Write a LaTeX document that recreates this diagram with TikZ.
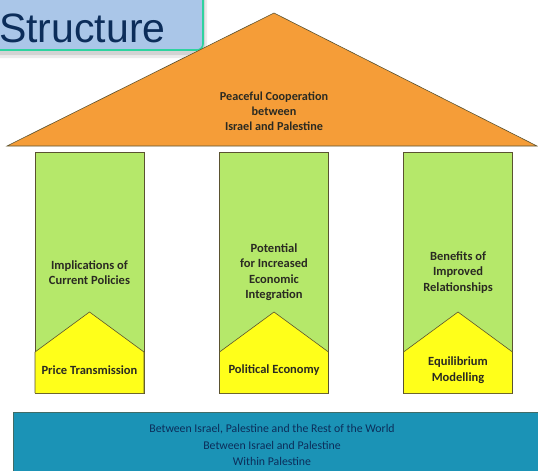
\documentclass[tikz,border=0pt]{standalone}
\usepackage{fontspec}
\setmainfont{Carlito}
\newfontfamily\headfont{Liberation Sans}
\definecolor{roofcol}{HTML}{F59D38}
\definecolor{pillarcol}{HTML}{B5E86A}
\definecolor{basecol}{HTML}{FFFF1A}
\definecolor{bandcol}{HTML}{1B93B6}
\definecolor{edgecol}{HTML}{5A5230}
\definecolor{titlefill}{HTML}{AAC6E8}
\definecolor{titleedge}{HTML}{2ED39F}
\definecolor{navy}{HTML}{0C2D5A}
\definecolor{inkcol}{HTML}{2A2A22}

\begin{document}
\begin{tikzpicture}[x=1pt,y=-1pt,
    roofline/.style={font=\fontsize{12.2}{15}\selectfont\bfseries, text=inkcol, align=center},
    pillartext/.style={font=\fontsize{12.5}{15.5}\selectfont\bfseries, text=inkcol, align=center},
    bandtext/.style={font=\fontsize{11.8}{16.5}\selectfont, text=navy, align=center}]
    \useasboundingbox (0,0) rectangle (538,471);
    \clip (0,0) rectangle (538,471);
    % title tab, with a soft shadow under it
    \fill[black, opacity=0.08, rounded corners=9pt] (-20,-20) rectangle (207,58);
    \fill[black, opacity=0.10, rounded corners=7pt] (-20,-20) rectangle (205,55);
    \draw[fill=titlefill, draw=titleedge, line width=1.6pt, rounded corners=6pt] (-20,-20) rectangle (203,50);
    \node[anchor=base west, inner sep=0, text=navy, font=\headfont\fontsize{41}{41}\selectfont] (title) at (-1,42) {Structure};
    % roof
    \draw[fill=roofcol, draw=edgecol, line width=0.6pt] (7,146) -- (274,13) -- (537,146) -- cycle;
    \node[roofline] (roof) at (274,111) {Peaceful Cooperation\\between\\Israel and Palestine};
    % pillars
    \foreach \cx in {89.5,274,458}{
        \draw[fill=pillarcol, draw=edgecol, line width=0.6pt] (\cx-54.5,152) rectangle (\cx+54.5,393);
        \draw[fill=basecol, draw=edgecol, line width=0.6pt] (\cx-54.5,393) -- (\cx-54.5,352) -- (\cx,312) -- (\cx+54.5,352) -- (\cx+54.5,393);
    }
    \node[pillartext] (policies) at (89.5,272.5) {Implications of\\Current Policies};
    \node[pillartext] (integration) at (274,272) {Potential\\for Increased\\Economic\\Integration};
    \node[pillartext] (relations) at (458,272.5) {Benefits of\\Improved\\Relationships};
    \node[pillartext] (price) at (89.5,370) {Price Transmission};
    \node[pillartext] (political) at (274,370) {Political Economy};
    \node[pillartext] (equilibrium) at (458,370) {Equilibrium\\Modelling};
    % foundation
    \draw[fill=bandcol, draw=edgecol!60!bandcol, line width=0.6pt] (13,412) rectangle (545,480);
    \node[bandtext] (levels) at (272,445) {Between Israel, Palestine and the Rest of the World\\Between Israel and Palestine\\Within Palestine};
\end{tikzpicture}
\end{document}
